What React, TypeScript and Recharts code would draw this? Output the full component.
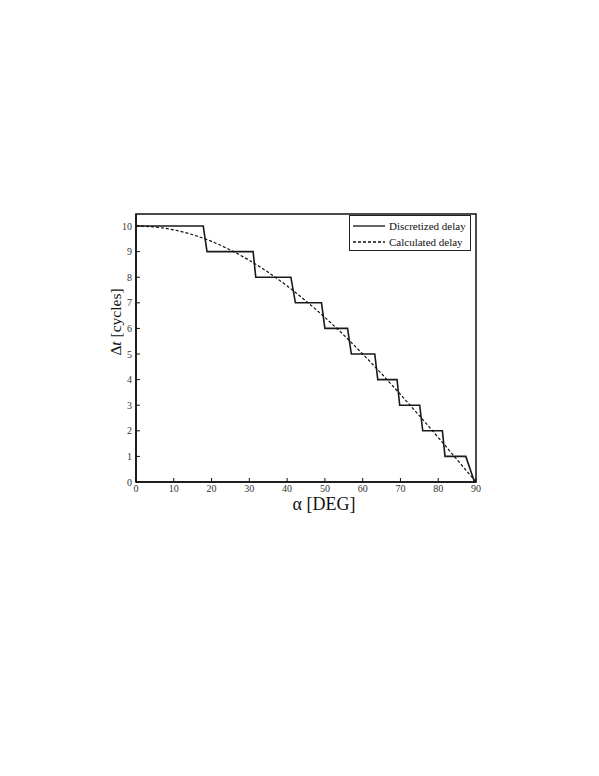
import { ComposedChart, Line, XAxis, YAxis, ReferenceArea, Label } from "recharts";

// discretized delay: step corners (angle, cycles)
const stepAngles = [0, 17.8, 18.8, 31.0, 31.7, 41.0, 42.2, 49.1, 50.0, 56.0, 57.0, 63.2, 64.0, 69.1, 69.8, 75.1, 75.9, 81.1, 81.8, 87.3, 89.6];
const stepCycles = [10, 10, 9, 9, 8, 8, 7, 7, 6, 6, 5, 5, 4, 4, 3, 3, 2, 2, 1, 1, 0];

// calculated delay
const calcAngles = [0, 5, 10, 15, 20, 25, 30, 35, 40, 45, 50, 55, 60, 65, 70, 75, 80, 85, 90];
const calcCycles = [10, 9.96, 9.85, 9.66, 9.4, 9.06, 8.66, 8.19, 7.66, 7.07, 6.43, 5.74, 5.0, 4.23, 3.42, 2.59, 1.74, 0.87, 0];

const xTicks = [0, 10, 20, 30, 40, 50, 60, 70, 80, 90];
const yTicks = [0, 1, 2, 3, 4, 5, 6, 7, 8, 9, 10];

const stepData = stepAngles.map((a, i) => ({ a, v: stepCycles[i] }));
const calcData = calcAngles.map((a, i) => ({ a, v: calcCycles[i] }));

const serif = "'Liberation Serif', 'DejaVu Serif', serif";

function LegendBox() {
  const row = (dash: string | undefined, label: string) => (
    <div style={{ display: "flex", alignItems: "center", height: 16 }}>
      <svg width={34} height={8} style={{ marginRight: 3 }}>
        <line x1={1} y1={4} x2={33} y2={4} stroke="#111" strokeWidth={1.3} strokeDasharray={dash} />
      </svg>
      <span>{label}</span>
    </div>
  );
  return (
    <div
      style={{
        position: "absolute",
        left: 349,
        top: 215,
        border: "1px solid #222",
        background: "#fff",
        width: 122,
        height: 36,
        boxSizing: "border-box",
        padding: "2px 2px",
        fontFamily: serif,
        fontSize: 11,
        color: "#111",
      }}
    >
      {row(undefined, "Discretized delay")}
      {row("3 2", "Calculated delay")}
    </div>
  );
}

export default function App() {
  return (
    <div style={{ position: "absolute", left: 0, top: 0, width: 599, height: 776 }}>
      <ComposedChart width={599} height={776} margin={{ top: 214, right: 123, bottom: 264, left: 106 }}>
        <XAxis
          dataKey="a"
          type="number"
          domain={[0, 90]}
          ticks={xTicks}
          allowDuplicatedCategory={false}
          height={30}
          tickSize={-4}
          tickMargin={7}
          axisLine={{ stroke: "#111", strokeWidth: 1.5 }}
          tickLine={{ stroke: "#111" }}
          tick={{ fill: "#333", fontSize: 10, fontFamily: serif }}
        >
          <Label
            content={({ viewBox }: any) => (
              <text
                x={viewBox.x + viewBox.width / 2 + 18}
                y={viewBox.y + 28}
                textAnchor="middle"
                fontFamily={serif}
                fontSize={18}
                fill="#111"
              >
                α [DEG]
              </text>
            )}
          />
        </XAxis>
        <YAxis
          type="number"
          domain={[0, 10.47]}
          ticks={yTicks}
          width={30}
          tickSize={-4}
          tickMargin={8}
          axisLine={{ stroke: "#111", strokeWidth: 1.5 }}
          tickLine={{ stroke: "#111" }}
          tick={{ fill: "#333", fontSize: 10, fontFamily: serif }}
        >
          <Label
            content={({ viewBox }: any) => {
              const cx = viewBox.x + 9;
              const cy = viewBox.y + viewBox.height / 2 - 26;
              return (
                <text
                  x={cx}
                  y={cy}
                  transform={`rotate(-90 ${cx} ${cy})`}
                  textAnchor="middle"
                  dominantBaseline="central"
                  fontFamily={serif}
                  fontSize={15.5}
                  fill="#111"
                >
                  Δ<tspan fontStyle="italic">t</tspan> [cycles]
                </text>
              );
            }}
          />
        </YAxis>
        <ReferenceArea x1={0} x2={90} y1={0} y2={10.47} fill="none" stroke="#111" strokeWidth={1.5} ifOverflow="visible" />
        <Line
          data={stepData}
          dataKey="v"
          type="linear"
          stroke="#1a1a1a"
          strokeWidth={1.6}
          dot={false}
          isAnimationActive={false}
        />
        <Line
          data={calcData}
          dataKey="v"
          type="monotone"
          stroke="#111"
          strokeWidth={1.2}
          strokeDasharray="3 2"
          dot={false}
          isAnimationActive={false}
        />
      </ComposedChart>
      <LegendBox />
    </div>
  );
}
